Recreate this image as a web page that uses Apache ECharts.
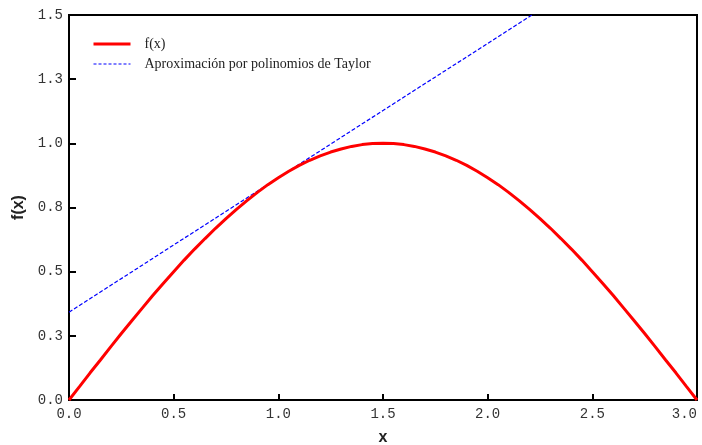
<!DOCTYPE html>
<html>
<head>
<meta charset="utf-8">
<script src="https://cdn.jsdelivr.net/npm/echarts@6/dist/echarts.min.js"></script>
<style>
html,body{margin:0;padding:0;background:#fff;}
#chart{width:702px;height:445px;}
</style>
</head>
<body>
<div id="chart"></div>
<script>
// Data
var xValues = [0.0,0.05,0.1,0.15,0.2,0.25,0.3,0.35,0.4,0.45,0.5,0.55,0.6,0.65,0.7,0.75,0.8,0.85,0.9,0.95,1.0,1.05,1.1,1.15,1.2,1.25,1.3,1.35,1.4,1.45,1.5,1.55,1.6,1.65,1.7,1.75,1.8,1.85,1.9,1.95,2.0,2.05,2.1,2.15,2.2,2.25,2.3,2.35,2.4,2.45,2.5,2.55,2.6,2.65,2.7,2.75,2.8,2.85,2.9,2.95,3.0];
var fValues = [0.000,0.052,0.105,0.156,0.208,0.259,0.309,0.358,0.407,0.454,0.500,0.545,0.588,0.629,0.669,0.707,0.743,0.777,0.809,0.839,0.866,0.891,0.914,0.934,0.951,0.966,0.978,0.988,0.995,0.999,1.000,0.999,0.995,0.988,0.978,0.966,0.951,0.934,0.914,0.891,0.866,0.839,0.809,0.777,0.743,0.707,0.669,0.629,0.588,0.545,0.500,0.454,0.407,0.358,0.309,0.259,0.208,0.156,0.105,0.052,0.000];
var taylorX = [0.0,0.5,1.0,1.5,2.0,2.5,3.0];
var taylorY = [0.342,0.604,0.866,1.128,1.389,1.651,1.913];
var seriesNames = ['f(x)', 'Aproximación por polinomios de Taylor'];
var xTicks = [0.0,0.5,1.0,1.5,2.0,2.5,3.0];
var yTicks = [0.0,0.25,0.5,0.75,1.0,1.25,1.5];

function pairs(xs, ys){ return xs.map(function(x,i){ return [x, ys[i]]; }); }

var chart = echarts.init(document.getElementById('chart'), null, {renderer:'canvas'});
var monoLabel = {fontFamily:'Liberation Mono', fontSize:14, color:'#333'};
chart.setOption({
  animation:false,
  backgroundColor:'#fff',
  grid:{left:69, right:5, top:15, bottom:45, outerBoundsMode:'none', containLabel:false,
        show:true, borderColor:'#000', borderWidth:2, backgroundColor:'transparent'},
  legend:{
    orient:'vertical', left:87, top:32, itemWidth:37, itemHeight:14, itemGap:6,
    itemStyle:{opacity:0, borderWidth:0},
    textStyle:{fontFamily:'Liberation Serif', fontSize:14, color:'#222', padding:[0,0,0,9]},
    data:[
      {name:seriesNames[0], lineStyle:{width:3, color:'#ff0000'}},
      {name:seriesNames[1], lineStyle:{width:1.2, color:'#0000ff', type:[3,2]}}
    ]
  },
  xAxis:{
    type:'value', min:xTicks[0], max:xTicks[xTicks.length-1], interval:0.5,
    name:'x', nameLocation:'middle', nameGap:30,
    nameTextStyle:{fontFamily:'Liberation Sans', fontSize:16, fontWeight:'bold', color:'#222'},
    axisLine:{show:true, lineStyle:{color:'#000', width:2}},
    axisTick:{show:true, inside:true, length:6, lineStyle:{color:'#000', width:2}},
    axisLabel:Object.assign({margin:7, alignMaxLabel:'right', formatter:function(v){return v.toFixed(1);}}, monoLabel),
    splitLine:{show:false}
  },
  yAxis:{
    type:'value', min:yTicks[0], max:yTicks[yTicks.length-1], interval:0.25,
    name:'f(x)', nameLocation:'middle', nameGap:38, nameRotate:90,
    nameTextStyle:{fontFamily:'Liberation Sans', fontSize:16, fontWeight:'bold', color:'#222'},
    axisLine:{show:true, lineStyle:{color:'#000', width:2}},
    axisTick:{show:true, inside:true, length:7, lineStyle:{color:'#000', width:2}},
    axisLabel:Object.assign({margin:6, formatter:function(v){return v.toFixed(1);}}, monoLabel),
    splitLine:{show:false}
  },
  series:[
    {name:seriesNames[0], type:'line', data:pairs(xValues,fValues), symbol:'none', smooth:false,
     lineStyle:{color:'#ff0000', width:3}, itemStyle:{color:'#ff0000'}, z:3},
    {name:seriesNames[1], type:'line', data:pairs(taylorX,taylorY), symbol:'none', clip:true,
     lineStyle:{color:'#0000ff', width:1.2, type:[4,2]}, itemStyle:{color:'#0000ff'}, z:2}
  ]
});
</script>
</body>
</html>
